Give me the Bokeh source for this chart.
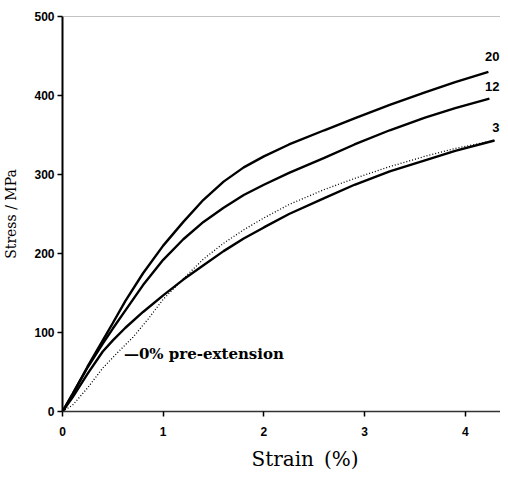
from bokeh.plotting import figure
from bokeh.models import Range1d, Span, Label, FixedTicker, Title
from bokeh.embed import file_html
from bokeh.resources import INLINE

# Stress-strain curves (strain %, stress MPa) for different pre-extensions
x20 = [0, 0.1, 0.25, 0.4, 0.5, 0.625, 0.8, 1.0, 1.2, 1.4, 1.6, 1.8, 2.0, 2.25, 2.6, 2.9, 3.25, 3.6, 3.9, 4.23]
y20 = [0, 22, 57, 90, 112, 140, 175, 210, 240, 268, 291, 309, 323, 338, 356, 371, 388, 404, 417, 430]

x12 = [0, 0.1, 0.25, 0.4, 0.5, 0.625, 0.8, 1.0, 1.2, 1.4, 1.6, 1.8, 2.0, 2.25, 2.6, 2.9, 3.25, 3.6, 3.9, 4.24]
y12 = [0, 22, 56, 86, 105, 128, 160, 192, 218, 240, 258, 274, 287, 302, 321, 338, 356, 372, 384, 396]

x3 = [0, 0.1, 0.25, 0.4, 0.5, 0.625, 0.8, 1.0, 1.2, 1.4, 1.6, 1.8, 2.0, 2.25, 2.6, 2.9, 3.25, 3.6, 3.9, 4.29]
y3 = [0, 18, 48, 76, 90, 106, 126, 147, 167, 185, 203, 219, 233, 250, 270, 287, 304, 318, 330, 343]

x0 = [0, 0.1, 0.25, 0.4, 0.55, 0.7, 0.85, 1.0, 1.2, 1.4, 1.6, 1.8, 2.0, 2.25, 2.6, 2.9, 3.25, 3.6, 3.9, 4.29]
y0 = [0, 8, 30, 55, 75, 94, 117, 142, 168, 193, 213, 230, 245, 262, 281, 295, 310, 323, 333, 343]

x_ticks = [0, 1, 2, 3, 4]
y_ticks = [0, 100, 200, 300, 400, 500]
end_labels = ["20", "12", "3"]
end_label_x = [4.34, 4.34, 4.34]
end_label_y = [449, 411, 360]

p = figure(width=500, height=477, output_backend="svg", toolbar_location=None,
           x_range=Range1d(0, 4.35), y_range=Range1d(0, 500),
           min_border_left=56, min_border_right=0, min_border_top=16, min_border_bottom=60)
p.outline_line_color = None
p.grid.visible = False
p.background_fill_color = "white"

p.line(x20, y20, line_color="black", line_width=2.4)
p.line(x12, y12, line_color="black", line_width=2.4)
p.line(x3, y3, line_color="black", line_width=2.4)
p.line(x0, y0, line_color="black", line_width=1.3, line_dash="1 2")

p.add_layout(Span(location=500, dimension="width", line_color="#888888", line_width=1.2))

for t, lx, ly in zip(end_labels, end_label_x, end_label_y):
    p.add_layout(Label(x=lx, y=ly, text=t, text_font="Liberation Sans", text_font_style="bold",
                       text_font_size="13px", text_baseline="middle", text_align="right",
                       text_color="black"))

p.add_layout(Label(x=0.61, y=73, text="\u20140% pre-extension", text_font="DejaVu Serif",
                   text_font_style="bold", text_font_size="15px", text_baseline="middle",
                   text_align="left", text_color="black"))

p.xaxis.ticker = FixedTicker(ticks=x_ticks)
p.yaxis.ticker = FixedTicker(ticks=y_ticks)
p.xaxis.minor_tick_line_color = None
p.yaxis.minor_tick_line_color = None

for ax in (p.xaxis, p.yaxis):
    ax.major_tick_in = 0
    ax.major_tick_out = 5
    ax.major_tick_line_color = "black"
    ax.major_tick_line_width = 1.5
    ax.major_label_text_font = "Liberation Sans"
    ax.major_label_text_font_style = "bold"
    ax.major_label_text_font_size = "12px"
    ax.major_label_text_color = "black"

p.yaxis.axis_line_color = "black"
p.yaxis.axis_line_width = 2
p.xaxis.axis_line_color = "#333333"
p.xaxis.axis_line_width = 1.5
p.xaxis.major_label_standoff = 10

# x-axis title, a little right of centre as in the original
xtitle = Title(text="Strain\u2002(%)", align="left", offset=189, text_font="DejaVu Serif",
               text_font_style="normal", text_font_size="20px", text_color="black",
               standoff=13, text_line_height=0.8)
p.add_layout(xtitle, "below")

p.yaxis.axis_label = "Stress / MPa"
p.yaxis.axis_label_text_font = "DejaVu Serif"
p.yaxis.axis_label_text_font_style = "normal"
p.yaxis.axis_label_text_color = "black"
p.yaxis.axis_label_text_font_size = "14px"
p.yaxis.major_label_standoff = 3
p.yaxis.axis_label_standoff = 12

open("out.html", "w").write(file_html(p, INLINE))
